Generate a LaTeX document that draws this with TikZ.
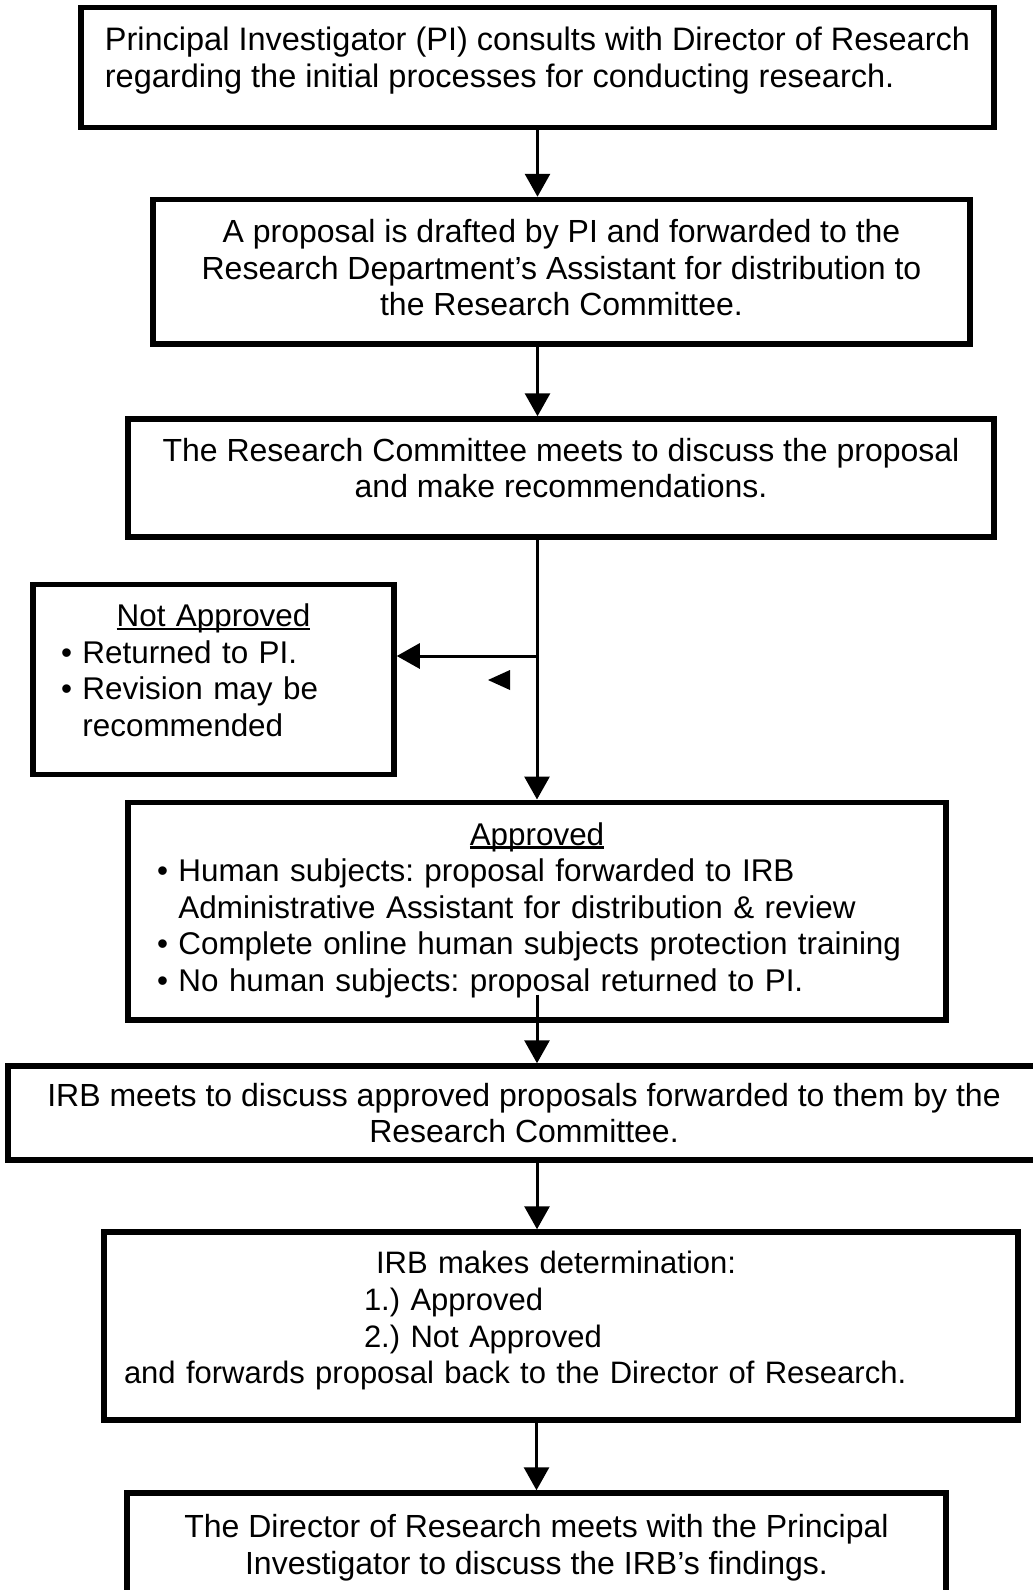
\documentclass[tikz,border=0pt]{standalone}
\usepackage{fontspec}
\setmainfont{Liberation Sans}
\usetikzlibrary{arrows.meta}
\setlength{\parindent}{0pt}
\frenchspacing
\newcommand{\padbelow}[1]{\rule[-#1]{0pt}{#1}}
\newcommand{\headline}[1]{\setbox0=\hbox{#1}\rlap{\rule[-3.5pt]{\wd0}{2.2pt}}\box0}
\newcommand{\boxtitle}[1]{\makebox[\hsize]{\headline{#1}}}
\newcommand{\bul}{•\ }
\newcommand{\cont}{\hphantom{•\ }}
\newcommand{\textsize}[1]{\fontsize{#1}{36.6}\selectfont}
\tikzset{
  box/.style={draw, line width=5.5pt, inner sep=0pt, font=\textsize{32}},
  arr/.style={line width=3pt, -{Triangle[length=23pt,width=25pt]}},
}

\begin{document}
\begin{tikzpicture}[x=1pt,y=-1pt]
			\useasboundingbox (0,0) rectangle (1033,1590);
			\clip (0,0) rectangle (1033,1590);
			
			%%%%% BOXES %%%%%
			\node[box, font=\textsize{32.5}, align=left, minimum width=913pt, minimum height=120pt] (pi) at (537.5,67.5)
				{Principal Investigator (PI) consults with Director of Research\\regarding the initial processes for conducting research.\padbelow{20pt}};
			
			\node[box, align=center, minimum width=817pt, minimum height=144.5pt] (prop) at (561.5,271.75)
				{A proposal is drafted by PI and forwarded to the\\Research Department’s Assistant for distribution to\\the Research Committee.\padbelow{8pt}};
			
			\node[box, align=center, minimum width=866pt, minimum height=118pt] (rc) at (561,478)
				{The Research Committee meets to discuss the proposal\\and make recommendations.\padbelow{20pt}};
			
			\node[box, font=\textsize{31.4}, align=left, text width=305pt, minimum width=361pt, minimum height=190pt] (na) at (213.5,679.5)
				{\boxtitle{Not Approved}\\
				\bul Returned to PI.\\
				\bul Revision may be\\
				\cont recommended\padbelow{19pt}};
			
			\node[box, font=\textsize{31.4}, align=left, text width=760pt, minimum width=818pt, minimum height=217.5pt] (ok) at (537,911)
				{\boxtitle{Approved}\\
				\bul Human subjects: proposal forwarded to IRB\\
				\cont Administrative Assistant for distribution \& review\\
				\bul Complete online human subjects protection training\\
				\bul No human subjects: proposal returned to PI.\padbelow{8pt}};
			
			\node[box, align=center, minimum width=1032pt, minimum height=94pt] (irb) at (524,1113)
				{IRB meets to discuss approved proposals forwarded to them by the\\Research Committee.};
			
			\node[box, font=\textsize{31}, align=left, text width=874pt, minimum width=914pt, minimum height=188pt] (det) at (561,1326)
				{\hspace*{252pt}IRB makes determination:\\
				\hspace*{240pt}1.) Approved\\
				\hspace*{240pt}2.) Not Approved\\
				and forwards proposal back to the Director of Research.\padbelow{17pt}};
			
			\node[box, align=center, minimum width=819pt, minimum height=110pt] (fin) at (536.5,1548)
				{The Director of Research meets with the Principal\\Investigator to discuss the IRB’s findings.};
			
			%%%%% ARROWS %%%%%
			\draw[arr] (pi.south) -- (pi.south |- prop.north);
			\draw[arr] (prop.south -| pi.south) -- (rc.north -| pi.south);
			\draw[arr] (rc.south -| ok.north) -- (ok.north);
			
			\coordinate (split) at (537,656);
			\draw[arr] (split) -- (split -| na.east);
			\fill (488,680) -- (510,670) -- (510,690) -- cycle;
			
			\draw[arr] ([yshift=28pt]ok.south) -- (ok.south |- irb.north);
			\draw[arr] (irb.south -| ok.south) -- (det.north -| ok.south);
			\draw[arr] (det.south -| fin.north) -- (fin.north);
			
		\end{tikzpicture}
\end{document}
